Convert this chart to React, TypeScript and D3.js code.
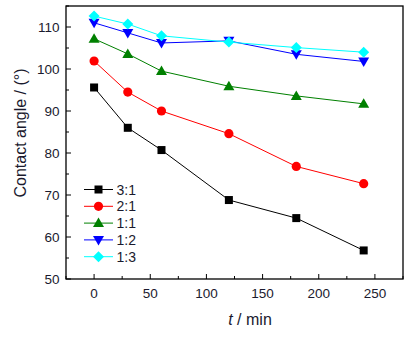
import React from "react";
import * as d3 from "d3";

const times = [0, 30, 60, 120, 180, 240];
const seriesNames = ["3:1", "2:1", "1:1", "1:2", "1:3"];
const s31 = [95.6, 86.0, 80.7, 68.8, 64.5, 56.8];
const s21 = [101.9, 94.5, 90.0, 84.6, 76.8, 72.7];
const s11 = [107.2, 103.6, 99.5, 95.9, 93.6, 91.7];
const s12 = [111.0, 108.6, 106.2, 106.7, 103.5, 101.8];
const s13 = [112.6, 110.7, 107.9, 106.4, 105.1, 104.0];
const colors = ["#000000", "#ff0000", "#008000", "#0000ff", "#00ffff"];
const symbols = ["square", "circle", "triangle", "triangleDown", "diamond"];
const xTicks = [0, 50, 100, 150, 200, 250];
const yTicks = [50, 60, 70, 80, 90, 100, 110];

const W = 420, H = 340;
const L = 66, R = 403, T = 6, B = 279;

function Marker({ type, x, y, color }: { type: string; x: number; y: number; color: string }) {
  if (type === "square") return <rect x={x - 4} y={y - 4} width={8} height={8} fill={color} />;
  if (type === "circle") return <circle cx={x} cy={y} r={4.6} fill={color} />;
  if (type === "triangle")
    return <path d={`M${x},${y - 5.5}L${x + 5.5},${y + 4}L${x - 5.5},${y + 4}Z`} fill={color} />;
  if (type === "triangleDown")
    return <path d={`M${x},${y + 5.5}L${x + 5.5},${y - 4}L${x - 5.5},${y - 4}Z`} fill={color} />;
  return <path d={`M${x},${y - 5.5}L${x + 5.5},${y}L${x},${y + 5.5}L${x - 5.5},${y}Z`} fill={color} />;
}

export default function App() {
  const x = d3.scaleLinear().domain([-25, 275]).range([L, R]);
  const y = d3.scaleLinear().domain([50, 115]).range([B, T]);
  const data = [s31, s21, s11, s12, s13];
  const line = d3
    .line<number>()
    .x((_, i) => x(times[i]))
    .y((d) => y(d));
  const xMinor = d3.range(-25, 276, 25);
  const yMinor = d3.range(50, 116, 5);
  const font = "'Liberation Sans', Arial, sans-serif";
  const legendY0 = 189.5;
  const legendDy = 16.8;
  return (
    <svg width={W} height={H} style={{ position: "absolute", left: 0, top: 0 }} fontFamily={font}>
      <rect x={0} y={0} width={W} height={H} fill="#fff" />
      {data.map((s, k) => (
        <path key={"l" + k} d={line(s) || ""} fill="none" stroke={colors[k]} strokeWidth={1} />
      ))}
      {data.map((s, k) =>
        s.map((v, i) => (
          <Marker key={`m${k}-${i}`} type={symbols[k]} x={x(times[i])} y={y(v)} color={colors[k]} />
        ))
      )}
      <rect x={L} y={T} width={R - L} height={B - T} fill="none" stroke="#000" strokeWidth={1.3} />
      {xMinor.map((t) => {
        const major = xTicks.includes(t);
        return (
          <line key={"xt" + t} x1={x(t)} x2={x(t)} y1={B} y2={B - (major ? 5 : 3)} stroke="#000" strokeWidth={1} />
        );
      })}
      {yMinor.map((t) => {
        const major = yTicks.includes(t);
        return (
          <line key={"yt" + t} x1={L} x2={L + (major ? 5 : 3)} y1={y(t)} y2={y(t)} stroke="#000" strokeWidth={1} />
        );
      })}
      {xTicks.map((t) => (
        <text key={"xl" + t} x={x(t)} y={298} textAnchor="middle" fontSize={13.5} fill="#1a1a2e">
          {t}
        </text>
      ))}
      {yTicks.map((t) => (
        <text key={"yl" + t} x={59.5} y={y(t) + 5} textAnchor="end" fontSize={13.5} fill="#1a1a2e">
          {t}
        </text>
      ))}
      <text
        transform={`translate(26,133) rotate(-90)`}
        textAnchor="middle"
        fontSize={16}
        fill="#1a1a2e"
      >
        Contact angle / (°)
      </text>
      <text x={250} y={325} textAnchor="middle" fontSize={16} fill="#1a1a2e">
        <tspan fontStyle="italic">t</tspan> / min
      </text>
      {seriesNames.map((n, k) => {
        const ly = legendY0 + k * legendDy;
        return (
          <g key={"lg" + k}>
            <line x1={84} x2={113} y1={ly} y2={ly} stroke={colors[k]} strokeWidth={1} />
            <Marker type={symbols[k]} x={98.5} y={ly} color={colors[k]} />
            <text x={116.5} y={ly + 5} fontSize={14} fill="#1a1a2e">
              {n}
            </text>
          </g>
        );
      })}
    </svg>
  );
}
